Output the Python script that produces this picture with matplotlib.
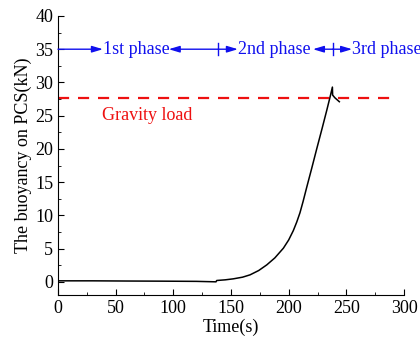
import numpy as np
import matplotlib
matplotlib.use('Agg')
import matplotlib.pyplot as plt
from matplotlib.ticker import MultipleLocator

plt.rcParams['font.family'] = ['Liberation Serif', 'DejaVu Serif']
plt.rcParams['font.size'] = 13

# buoyancy curve
time = [0, 30, 60, 90, 120, 137, 137.6, 145, 152, 160, 166.5, 174, 181, 188, 195.4,
        200, 204, 207, 209.8, 212.5, 215.6, 220, 224.3, 229, 233, 236, 237.9,
        238.1, 240, 243.9]
buoy = [0.15, 0.15, 0.12, 0.1, 0.07, 0.0, 0.2, 0.3, 0.45, 0.7, 1.05, 1.7, 2.55, 3.6, 5.06,
        6.3, 7.7, 9.0, 10.4, 12.1, 14.2, 17.1, 20.0, 23.1, 25.8, 27.9, 29.3,
        28.1, 27.7, 27.1]
gravity_load = 27.7

# phase boundaries / label positions (s)
phase_marks = [139, 238]
phase_labels = ['1st phase', '2nd phase', '3rd phase']
label_start = [39, 156, 255]
label_end = [96, 221, 320]
phase_y = 35

fig = plt.figure(figsize=(4.2, 3.4), dpi=100)
ax = fig.add_axes([0.138, 0.132, 0.824, 0.821])

ax.plot(time, buoy, color='k', lw=1.1)
ax.plot([0, 295], [gravity_load, gravity_load], color='#ee1111', lw=1.6,
        dashes=(5, 4))
ax.text(38, 25.0, 'Gravity load', color='#ee1111', va='center', ha='left')

blue = '#1010ee'
arr = dict(arrowstyle='-|>,head_length=0.5,head_width=0.15', color=blue, lw=1.0,
           shrinkA=0, shrinkB=0)
# arrows: start -> label 1, marks <-> labels
ax.annotate('', xy=(label_start[0], phase_y), xytext=(0, phase_y), arrowprops=arr)
ax.annotate('', xy=(label_end[0], phase_y), xytext=(phase_marks[0], phase_y), arrowprops=arr)
ax.annotate('', xy=(label_start[1], phase_y), xytext=(phase_marks[0], phase_y), arrowprops=arr)
ax.annotate('', xy=(label_end[1], phase_y), xytext=(phase_marks[1], phase_y), arrowprops=arr)
ax.annotate('', xy=(label_start[2], phase_y), xytext=(phase_marks[1], phase_y), arrowprops=arr)
for m in phase_marks:
    ax.plot([m, m], [phase_y - 0.9, phase_y + 0.9], color=blue, lw=1.0)
for s, lab in zip(label_start, phase_labels):
    ax.text(s, phase_y, lab, color=blue, va='center', ha='left', clip_on=False)

ax.set_xlim(0, 300)
ax.set_ylim(-2, 40)
ax.xaxis.set_major_locator(MultipleLocator(50))
ax.xaxis.set_minor_locator(MultipleLocator(25))
ax.yaxis.set_major_locator(MultipleLocator(5))
ax.yaxis.set_minor_locator(MultipleLocator(2.5))
ax.tick_params(which='both', direction='in')
ax.tick_params(which='major', length=4)
ax.tick_params(which='minor', length=2)
ax.spines['top'].set_visible(False)
ax.spines['right'].set_visible(False)
ax.set_xlabel('Time(s)', labelpad=1)
ax.set_ylabel('The buoyancy on PCS(kN)', labelpad=2)

fig.savefig('out.png', dpi=100)
